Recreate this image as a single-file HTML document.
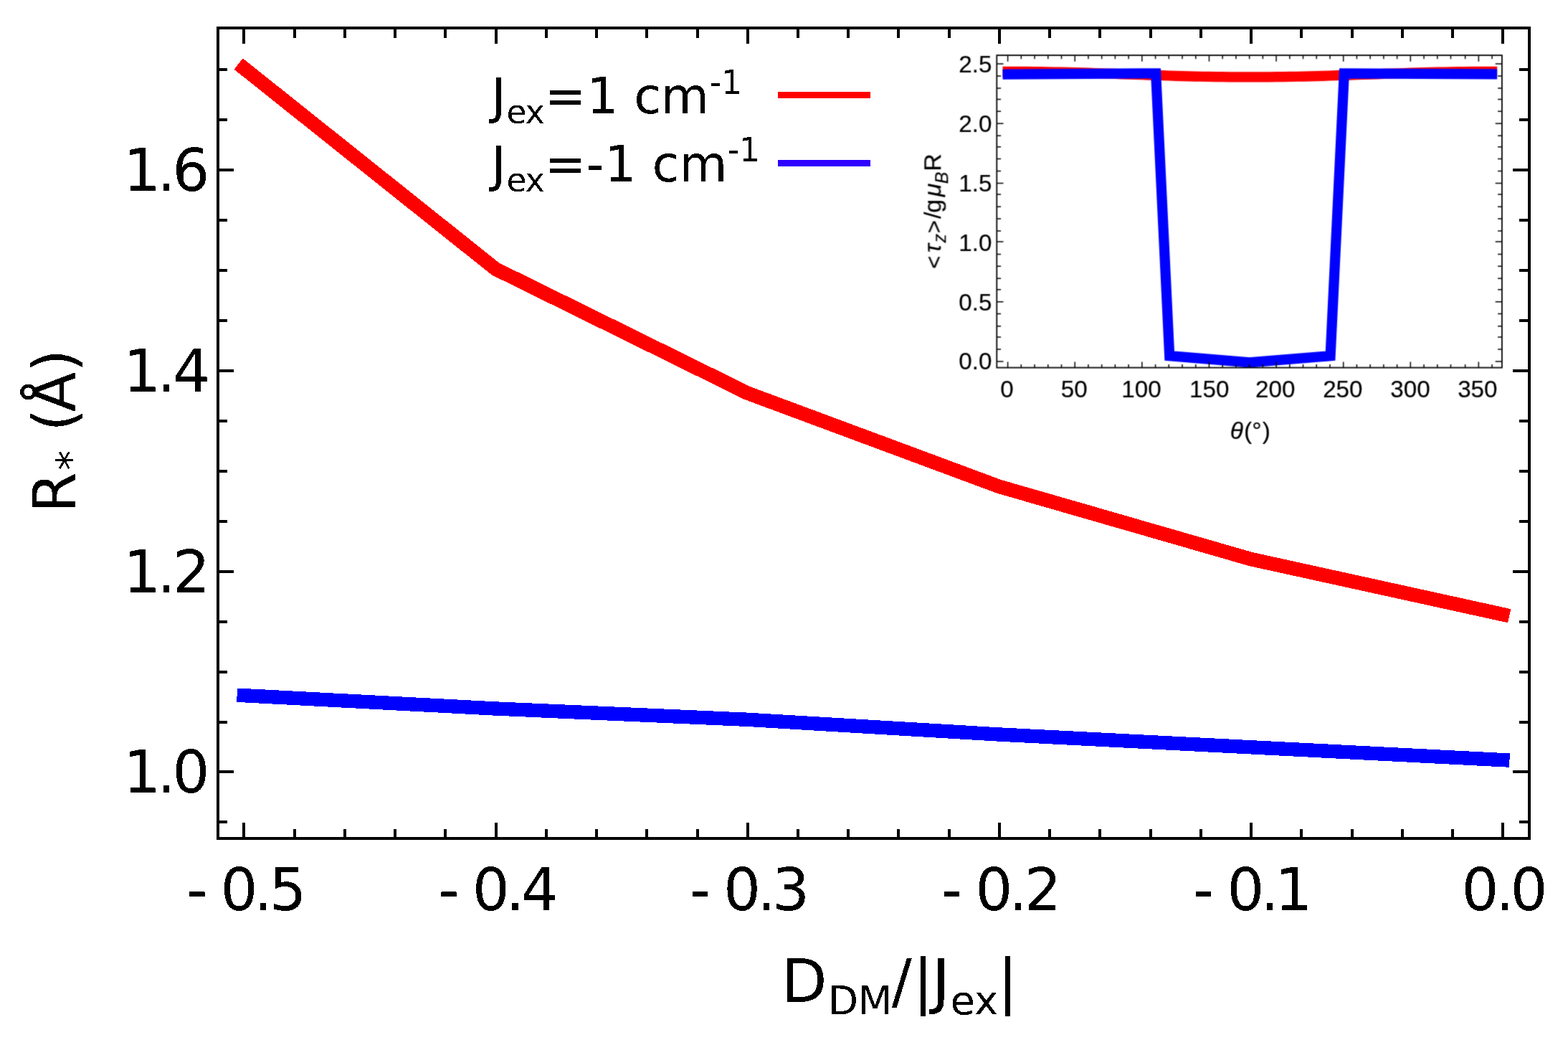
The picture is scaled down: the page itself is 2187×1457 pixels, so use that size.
<!DOCTYPE html>
<html lang="en">
<head>
<meta charset="utf-8">
<title>R* versus D_DM/|J_ex|</title>
<style>
html,body{margin:0;padding:0;background:#fff;}
body{width:2187px;height:1457px;overflow:hidden;}
svg{display:block;}
text{fill:#000;}
.dj{font-family:"DejaVu Sans","Liberation Sans",sans-serif;}
.ls{font-family:"Liberation Sans","DejaVu Sans",sans-serif;fill:#000;stroke:#000;stroke-width:0.2px;}
</style>
</head>
<body>
<svg width="2187" height="1457" viewBox="0 0 2187 1457">
<defs>
<filter id="soft" filterUnits="userSpaceOnUse" x="1270" y="60" width="850" height="580" color-interpolation-filters="sRGB"><feConvolveMatrix order="3" kernelMatrix="0.0437 0.0875 0.0437 0.0875 0.475 0.0875 0.0437 0.0875 0.0437" edgeMode="none" preserveAlpha="false"/></filter>
<filter id="hard" x="0" y="0" width="100%" height="100%" filterUnits="userSpaceOnUse" color-interpolation-filters="sRGB"><feComponentTransfer><feFuncA type="discrete" tableValues="0 1"/></feComponentTransfer></filter>
</defs>
<rect width="2187" height="1457" fill="#fff"/>
<g class="curves" fill="none" stroke-linecap="square" stroke-linejoin="miter" stroke-width="19.6" shape-rendering="crispEdges">
<polyline class="series-red" stroke="#ff0000" points="340.3,95.2 691.2,375 1042.4,548 1393.6,678.4 1744.8,779.6 2095.6,856.6"/>
<polyline class="series-blue" stroke="#0000ff" stroke-width="19.4" points="340.3,969.7 691.2,988 1042.4,1003.3 1393.6,1024 1744.8,1041.8 2095.8,1059.6"/>
</g>
<g class="axes" fill="#000" shape-rendering="crispEdges">
<rect x="302" y="37" width="1833" height="4"/>
<rect x="302" y="1167" width="1833" height="4"/>
<rect x="302" y="37" width="4" height="1134"/>
<rect x="2131" y="37" width="4" height="1134"/>
<rect x="338" y="41" width="4" height="20"/>
<rect x="338" y="1147" width="4" height="20"/>
<rect x="409" y="41" width="4" height="12"/>
<rect x="409" y="1156" width="4" height="11"/>
<rect x="479" y="41" width="4" height="12"/>
<rect x="479" y="1156" width="4" height="11"/>
<rect x="549" y="41" width="4" height="12"/>
<rect x="549" y="1156" width="4" height="11"/>
<rect x="619" y="41" width="4" height="12"/>
<rect x="619" y="1156" width="4" height="11"/>
<rect x="690" y="41" width="4" height="20"/>
<rect x="690" y="1147" width="4" height="20"/>
<rect x="760" y="41" width="4" height="12"/>
<rect x="760" y="1156" width="4" height="11"/>
<rect x="830" y="41" width="4" height="12"/>
<rect x="830" y="1156" width="4" height="11"/>
<rect x="900" y="41" width="4" height="12"/>
<rect x="900" y="1156" width="4" height="11"/>
<rect x="971" y="41" width="4" height="12"/>
<rect x="971" y="1156" width="4" height="11"/>
<rect x="1041" y="41" width="4" height="20"/>
<rect x="1041" y="1147" width="4" height="20"/>
<rect x="1111" y="41" width="4" height="12"/>
<rect x="1111" y="1156" width="4" height="11"/>
<rect x="1181" y="41" width="4" height="12"/>
<rect x="1181" y="1156" width="4" height="11"/>
<rect x="1251" y="41" width="4" height="12"/>
<rect x="1251" y="1156" width="4" height="11"/>
<rect x="1322" y="41" width="4" height="12"/>
<rect x="1322" y="1156" width="4" height="11"/>
<rect x="1392" y="41" width="4" height="20"/>
<rect x="1392" y="1147" width="4" height="20"/>
<rect x="1462" y="41" width="4" height="12"/>
<rect x="1462" y="1156" width="4" height="11"/>
<rect x="1532" y="41" width="4" height="12"/>
<rect x="1532" y="1156" width="4" height="11"/>
<rect x="1603" y="41" width="4" height="12"/>
<rect x="1603" y="1156" width="4" height="11"/>
<rect x="1673" y="41" width="4" height="12"/>
<rect x="1673" y="1156" width="4" height="11"/>
<rect x="1743" y="41" width="4" height="20"/>
<rect x="1743" y="1147" width="4" height="20"/>
<rect x="1813" y="41" width="4" height="12"/>
<rect x="1813" y="1156" width="4" height="11"/>
<rect x="1884" y="41" width="4" height="12"/>
<rect x="1884" y="1156" width="4" height="11"/>
<rect x="1954" y="41" width="4" height="12"/>
<rect x="1954" y="1156" width="4" height="11"/>
<rect x="2024" y="41" width="4" height="12"/>
<rect x="2024" y="1156" width="4" height="11"/>
<rect x="2094" y="41" width="4" height="20"/>
<rect x="2094" y="1147" width="4" height="20"/>
<rect x="306" y="1144" width="11" height="4"/>
<rect x="2119" y="1144" width="12" height="4"/>
<rect x="306" y="1074" width="20" height="4"/>
<rect x="2110" y="1074" width="21" height="4"/>
<rect x="306" y="1005" width="11" height="4"/>
<rect x="2119" y="1005" width="12" height="4"/>
<rect x="306" y="935" width="11" height="4"/>
<rect x="2119" y="935" width="12" height="4"/>
<rect x="306" y="865" width="11" height="4"/>
<rect x="2119" y="865" width="12" height="4"/>
<rect x="306" y="795" width="20" height="4"/>
<rect x="2110" y="795" width="21" height="4"/>
<rect x="306" y="725" width="11" height="4"/>
<rect x="2119" y="725" width="12" height="4"/>
<rect x="306" y="655" width="11" height="4"/>
<rect x="2119" y="655" width="12" height="4"/>
<rect x="306" y="585" width="11" height="4"/>
<rect x="2119" y="585" width="12" height="4"/>
<rect x="306" y="515" width="20" height="4"/>
<rect x="2110" y="515" width="21" height="4"/>
<rect x="306" y="445" width="11" height="4"/>
<rect x="2119" y="445" width="12" height="4"/>
<rect x="306" y="375" width="11" height="4"/>
<rect x="2119" y="375" width="12" height="4"/>
<rect x="306" y="305" width="11" height="4"/>
<rect x="2119" y="305" width="12" height="4"/>
<rect x="306" y="235" width="20" height="4"/>
<rect x="2110" y="235" width="21" height="4"/>
<rect x="306" y="165" width="11" height="4"/>
<rect x="2119" y="165" width="12" height="4"/>
<rect x="306" y="95" width="11" height="4"/>
<rect x="2119" y="95" width="12" height="4"/>
</g>
<g class="labels" filter="url(#hard)">
<text class="dj"><tspan font-size="82" x="171.99 219.03 240.3" y="265.8">1.6</tspan></text>
<text class="dj"><tspan font-size="82" x="171.99 219.03 241.1" y="545.8">1.4</tspan></text>
<text class="dj"><tspan font-size="82" x="171.99 219.03 241.1" y="825.8">1.2</tspan></text>
<text class="dj"><tspan font-size="82" x="171.99 219.03 240.3" y="1104.8">1.0</tspan></text>
<text class="dj"><tspan font-size="82" x="260 307.59 354.23 375.6" y="1269">-0.5</tspan></text>
<text class="dj"><tspan font-size="82" x="611.2 658.79 705.43 726.8" y="1269">-0.4</tspan></text>
<text class="dj"><tspan font-size="82" x="961.5 1009.09 1055.73 1077.1" y="1269">-0.3</tspan></text>
<text class="dj"><tspan font-size="82" x="1312.6 1360.19 1406.83 1428.6" y="1269">-0.2</tspan></text>
<text class="dj"><tspan font-size="82" x="1663.6 1711.19 1757.83 1778.3" y="1269">-0.1</tspan></text>
<text class="dj"><tspan font-size="82" x="2038.39 2086.13 2106.39" y="1269">0.0</tspan></text>
<text class="dj" id="xlabel"><tspan font-size="83" x="1089.65" y="1396.8">D</tspan><tspan font-size="55" x="1154.8 1196.7" y="1414">DM</tspan><tspan font-size="83" x="1243.8 1273.56 1300.3" y="1396.8">/|J</tspan><tspan font-size="56" x="1325.51 1359.09" y="1414.4">ex</tspan><tspan font-size="83" x="1391.56" y="1396.8">|</tspan></text>
<text class="dj" id="ylabel" transform="translate(104.4 0) rotate(-90)"><tspan font-size="82" x="-715.15" y="0">R</tspan><tspan font-size="56" x="-655.87" y="14.4">*</tspan><tspan font-size="82" x="45.1 -601.65 -574.64 -518.67" y="0"> (Å)</tspan></text>
<text class="dj"><tspan font-size="69" x="685.57" y="158.2">J</tspan><tspan font-size="45.5" x="706.49 732.79" y="171.7">ex</tspan><tspan font-size="69" x="759.69 818.22 856.17 884.29 921.63" y="158.2">=1 cm</tspan><tspan font-size="45.5" x="989.78 1006" y="131.2">-1</tspan></text>
<text class="dj"><tspan font-size="69" x="685.57" y="253.2">J</tspan><tspan font-size="45.5" x="706.49 732.79" y="266.7">ex</tspan><tspan font-size="69" x="759.69 817.43 843.42 881.37 909.39 947.33" y="253.2">=-1 cm</tspan><tspan font-size="45.5" x="1014.68 1030.9" y="225.2">-1</tspan></text>
</g>
<g class="legend-keys" shape-rendering="crispEdges">
<rect x="1085" y="128" width="129" height="9" fill="#ff0000"/>
<rect x="1085" y="223" width="129" height="9" fill="#2d00ff"/>
</g>
<g class="inset" filter="url(#soft)">
<g fill="none" stroke-linecap="square" stroke-linejoin="miter" stroke-width="14.2">
<polyline class="inset-red" stroke="#ff0000" points="1405.6,99.79 1414.96,99.8 1424.32,99.85 1433.69,99.92 1443.05,100.02 1452.41,100.15 1461.77,100.3 1471.13,100.48 1480.5,100.68 1489.86,100.91 1499.22,101.15 1508.58,101.42 1517.94,101.7 1527.31,101.99 1536.67,102.3 1546.03,102.62 1555.39,102.95 1564.75,103.28 1574.12,103.61 1583.48,103.94 1592.84,104.27 1602.2,104.6 1611.56,104.91 1620.93,105.22 1630.29,105.52 1639.65,105.8 1649.01,106.06 1658.37,106.31 1667.74,106.53 1677.1,106.74 1686.46,106.91 1695.82,107.07 1705.18,107.2 1714.55,107.3 1723.91,107.37 1733.27,107.41 1742.63,107.43 1751.99,107.41 1761.36,107.37 1770.72,107.3 1780.08,107.2 1789.44,107.07 1798.8,106.91 1808.17,106.74 1817.53,106.53 1826.89,106.31 1836.25,106.06 1845.61,105.8 1854.98,105.52 1864.34,105.22 1873.7,104.91 1883.06,104.6 1892.42,104.27 1901.79,103.94 1911.15,103.61 1920.51,103.28 1929.87,102.95 1939.23,102.62 1948.6,102.3 1957.96,101.99 1967.32,101.7 1976.68,101.42 1986.04,101.15 1995.41,100.91 2004.77,100.68 2014.13,100.48 2023.49,100.3 2034.25,100.15 2043.62,100.02 2052.98,99.92 2062.34,99.85 2071.7,99.8 2081.06,99.79"/>
<polyline class="inset-blue" stroke="#0000ff" points="1405.6,103.7 1612.16,102.3 1631.19,496.2 1742.63,505.3 1855.58,496.2 1874.8,102.3 2081.06,103.4"/>
</g>
<g stroke="#000" fill="none">
<path stroke-width="1.5" d="M1405.6 77.1v8.6M1405.6 512.6v-8.2M1424.32 77.1v5.2M1424.32 512.6v-4.6M1443.05 77.1v5.2M1443.05 512.6v-4.6M1461.77 77.1v5.2M1461.77 512.6v-4.6M1480.5 77.1v5.2M1480.5 512.6v-4.6M1499.22 77.1v8.6M1499.22 512.6v-8.2M1517.94 77.1v5.2M1517.94 512.6v-4.6M1536.67 77.1v5.2M1536.67 512.6v-4.6M1555.39 77.1v5.2M1555.39 512.6v-4.6M1574.12 77.1v5.2M1574.12 512.6v-4.6M1592.84 77.1v8.6M1592.84 512.6v-8.2M1611.56 77.1v5.2M1611.56 512.6v-4.6M1630.29 77.1v5.2M1630.29 512.6v-4.6M1649.01 77.1v5.2M1649.01 512.6v-4.6M1667.74 77.1v5.2M1667.74 512.6v-4.6M1686.46 77.1v8.6M1686.46 512.6v-8.2M1705.18 77.1v5.2M1705.18 512.6v-4.6M1723.91 77.1v5.2M1723.91 512.6v-4.6M1742.63 77.1v5.2M1742.63 512.6v-4.6M1761.36 77.1v5.2M1761.36 512.6v-4.6M1780.08 77.1v8.6M1780.08 512.6v-8.2M1798.8 77.1v5.2M1798.8 512.6v-4.6M1817.53 77.1v5.2M1817.53 512.6v-4.6M1836.25 77.1v5.2M1836.25 512.6v-4.6M1854.98 77.1v5.2M1854.98 512.6v-4.6M1873.7 77.1v8.6M1873.7 512.6v-8.2M1892.42 77.1v5.2M1892.42 512.6v-4.6M1911.15 77.1v5.2M1911.15 512.6v-4.6M1929.87 77.1v5.2M1929.87 512.6v-4.6M1948.6 77.1v5.2M1948.6 512.6v-4.6M1967.32 77.1v8.6M1967.32 512.6v-8.2M1986.04 77.1v5.2M1986.04 512.6v-4.6M2004.77 77.1v5.2M2004.77 512.6v-4.6M2023.49 77.1v5.2M2023.49 512.6v-4.6M2043.62 77.1v5.2M2043.62 512.6v-4.6M2062.34 77.1v8.6M2062.34 512.6v-8.2M2081.06 77.1v5.2M2081.06 512.6v-4.6M1390.3 503.95h9.2M2094.9 503.95h-9.2M1390.3 487.1h5.8M2094.9 487.1h-5.8M1390.3 470h5.8M2094.9 470h-5.8M1390.3 454.7h5.8M2094.9 454.7h-5.8M1390.3 437.6h5.8M2094.9 437.6h-5.8M1390.3 420.7h9.2M2094.9 420.7h-9.2M1390.3 403.7h5.8M2094.9 403.7h-5.8M1390.3 388.2h5.8M2094.9 388.2h-5.8M1390.3 371.3h5.8M2094.9 371.3h-5.8M1390.3 354.4h5.8M2094.9 354.4h-5.8M1390.3 337.05h9.2M2094.9 337.05h-9.2M1390.3 322.05h5.8M2094.9 322.05h-5.8M1390.3 305h5.8M2094.9 305h-5.8M1390.3 288.2h5.8M2094.9 288.2h-5.8M1390.3 271h5.8M2094.9 271h-5.8M1390.3 255.5h9.2M2094.9 255.5h-9.2M1390.3 238.6h5.8M2094.9 238.6h-5.8M1390.3 221.6h5.8M2094.9 221.6h-5.8M1390.3 204.7h5.8M2094.9 204.7h-5.8M1390.3 189.2h5.8M2094.9 189.2h-5.8M1390.3 172.3h9.2M2094.9 172.3h-9.2M1390.3 155.3h5.8M2094.9 155.3h-5.8M1390.3 138.4h5.8M2094.9 138.4h-5.8M1390.3 122.9h5.8M2094.9 122.9h-5.8M1390.3 106h5.8M2094.9 106h-5.8M1390.3 88.95h9.2M2094.9 88.95h-9.2"/>
<rect stroke-width="1.8" x="1390.3" y="77.1" width="704.6" height="435.5"/>
</g>
<text class="ls" font-size="33.2" text-anchor="end" x="1383.4" y="101.3">2.5</text>
<text class="ls" font-size="33.2" text-anchor="end" x="1383.4" y="184">2.0</text>
<text class="ls" font-size="33.2" text-anchor="end" x="1383.4" y="266.7">1.5</text>
<text class="ls" font-size="33.2" text-anchor="end" x="1383.4" y="350.3">1.0</text>
<text class="ls" font-size="33.2" text-anchor="end" x="1383.4" y="433.3">0.5</text>
<text class="ls" font-size="33.2" text-anchor="end" x="1383.4" y="515.2">0.0</text>
<text class="ls" font-size="33.2" x="1395.3" y="553.6">0</text>
<text class="ls" font-size="33.2" x="1479.87" y="553.6">50</text>
<text class="ls" font-size="33.2" x="1564.27" y="553.6">100</text>
<text class="ls" font-size="33.2" x="1658.97" y="553.6">150</text>
<text class="ls" font-size="33.2" x="1751.03" y="553.6">200</text>
<text class="ls" font-size="33.2" x="1845.13" y="553.6">250</text>
<text class="ls" font-size="33.2" x="1939.24" y="553.6">300</text>
<text class="ls" font-size="33.2" x="2033.14" y="553.6">350</text>
<text class="ls"><tspan font-size="33.5" font-style="italic" x="1715.65" y="611.7">θ</tspan><tspan font-size="33.5" x="1735.02" y="611.7">(</tspan><tspan font-size="33.5" x="1746.2" y="611.7">°</tspan><tspan font-size="33.5" x="1760.8" y="611.7">)</tspan></text>
<text class="ls" transform="translate(1312.3 0) rotate(-90)"><tspan font-size="31" x="-374.73" y="0.8">&lt;</tspan><tspan font-size="33" font-style="italic" x="-352.31" y="0">τ</tspan><tspan font-size="25" font-style="italic" x="-338.45" y="6.6">z</tspan><tspan font-size="31" x="-325.33" y="0.8">&gt;</tspan><tspan font-size="34" x="-305.1" y="0">/</tspan><tspan font-size="34" x="-296.83" y="0">g</tspan><tspan font-size="34" font-style="italic" x="-274.39" y="0">μ</tspan><tspan font-size="25" font-style="italic" x="-256.27" y="10.4">B</tspan><tspan font-size="34" x="-238.79" y="0">R</tspan></text>
</g>
</svg>
</body>
</html>
